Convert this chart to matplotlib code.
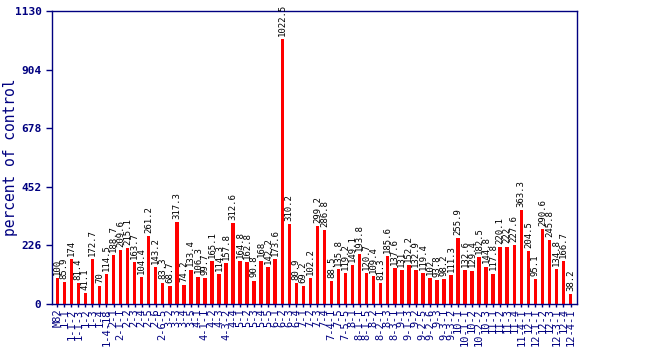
import numpy as np
import matplotlib
matplotlib.use("Agg")
import matplotlib.pyplot as plt

# introgression lines, in plotting order
lines = [
    "M82", "1-1", "1-1-2", "1-1-3", "1-2", "1-3", "1-4", "1-4-18",
    "2-1", "2-1-1", "2-2", "2-3", "2-4", "2-5", "2-6", "2-6-5",
    "3-2", "3-3", "3-4", "3-5",
    "4-1", "4-1-1", "4-2", "4-3", "4-3-2", "4-4",
    "5-1", "5-2", "5-3", "5-4", "5-5",
    "6-1", "6-2", "6-3", "6-4",
    "7-1", "7-2", "7-3", "7-4", "7-4-1", "7-5", "7-5-5",
    "8-1", "8-1-1", "8-1-5", "8-2", "8-2-1", "8-3", "8-3-1",
    "9-1", "9-1-3", "9-2", "9-2-5", "9-2-6", "9-3", "9-3-1", "9-3-2",
    "10-1", "10-1-1", "10-2", "10-2-2", "10-3",
    "11-1", "11-2", "11-3", "11-4", "11-4-1",
    "12-1", "12-1-1", "12-2", "12-3", "12-3-1", "12-4", "12-4-1",
]

pct_control = [
    100, 85.9, 174, 81.4, 41.1, 172.7, 70, 114.5,
    188.7, 209.6, 215.1, 163.7, 104.4, 261.2, 143.2, 83.3,
    68.7, 317.3, 74.2, 133.4,
    106.3, 99.7, 165.1, 114.3, 157.8, 312.6,
    164.8, 162.8, 90.8, 168, 142.2,
    173.6, 1022.5, 310.2, 80.9,
    69.2, 102.2, 299.2, 286.8, 88.5, 135.8, 119.2,
    149.1, 193.8, 120.7, 109.4, 81.3, 185.6, 137.6,
    131, 152.2, 132.9, 119.4, 102, 93.8, 98.2, 111.3,
    255.9, 132.6, 129.4, 182.5, 144.8,
    117.8, 220.1, 222, 227.6, 363.3,
    204.5, 95.1, 290.6, 245.8, 134.8, 166.7, 38.2,
]

yticks = [0, 226, 452, 678, 904, 1130]

NAVY = "#000080"
MONO = "DejaVu Sans Mono"


def main():
    fig = plt.figure(figsize=(6.5, 3.5), dpi=100)
    ax = fig.add_axes([0.08, 0.131, 0.808, 0.838])

    x = np.arange(len(pct_control))
    ax.bar(x, pct_control, width=0.5, color="#ff0000", linewidth=0)

    # value labels above each bar
    for xi, v in zip(x, pct_control):
        ax.text(xi, v + 12, f"{v:g}", rotation=90, ha="center", va="bottom",
                fontsize=6.5, family=MONO, color="black")

    ax.set_xlim(-0.75, len(pct_control) - 0.05)
    ax.set_ylim(0, 1130)
    ax.set_yticks(yticks)
    ax.set_yticklabels([str(t) for t in yticks], family=MONO,
                       fontweight="bold", fontsize=8, color=NAVY)
    ax.set_xticks(x)
    ax.set_xticklabels(lines, rotation=90, family=MONO, fontsize=7.5,
                       color=NAVY)
    ax.tick_params(axis="both", colors=NAVY, length=4, width=1)
    ax.tick_params(axis="x", length=2, pad=1)
    for sp in ax.spines.values():
        sp.set_color(NAVY)
        sp.set_linewidth(1)

    ax.set_ylabel("percent of control", family=MONO, fontsize=10.5,
                  color=NAVY)
    ax.yaxis.set_label_coords(-0.064, 0.5)

    fig.savefig("out.png", dpi=100)


if __name__ == "__main__":
    main()
